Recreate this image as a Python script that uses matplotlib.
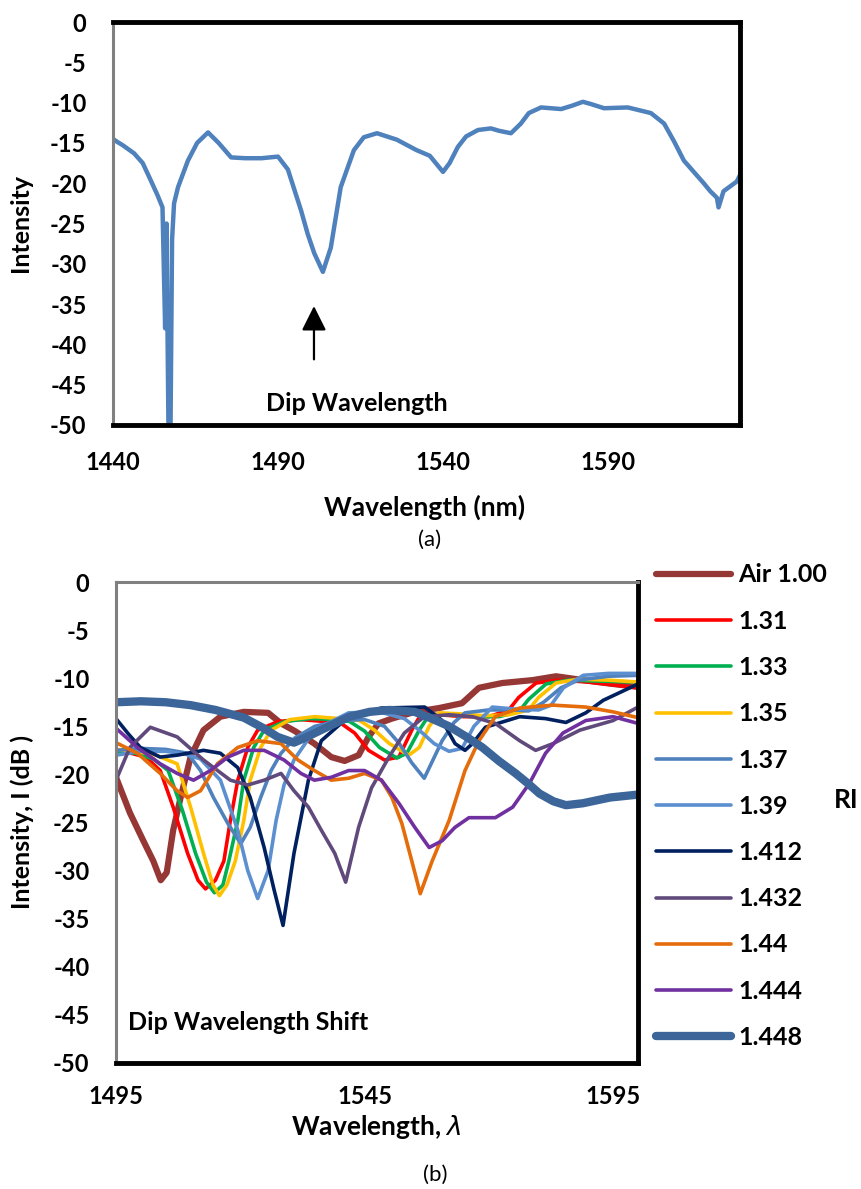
import matplotlib
matplotlib.use('Agg')
import matplotlib.pyplot as plt

plt.rcParams['font.family'] = ['Lato', 'DejaVu Sans']
plt.rcParams['mathtext.fontset'] = 'dejavusans'
plt.rcParams['axes.unicode_minus'] = False

# ---- panel (a): single spectrum ----
top_wl = [1440, 1441, 1443, 1446.4, 1449, 1451.5, 1453.5, 1455, 1455.8, 1456.2, 1456.8,
          1457.4, 1457.9, 1458.5, 1459.7, 1462.7, 1465.5, 1468.8, 1472, 1475.8, 1480, 1485,
          1490, 1493, 1497, 1499, 1501, 1503.6, 1506, 1509, 1513, 1516, 1520, 1526, 1532,
          1536, 1540, 1542, 1544.5, 1547, 1550.6, 1554.5, 1557, 1560.6, 1563.6, 1566, 1569.7,
          1575.8, 1579, 1582.4, 1585, 1588.8, 1596, 1603, 1607, 1610, 1613, 1616, 1619, 1621,
          1623, 1623.5, 1625, 1629, 1630]
top_db = [-14.5, -14.8, -15.3, -16.3, -17.5, -19.7, -21.5, -23, -38, -25, -50,
          -52, -27, -22.5, -20.5, -17.2, -15, -13.7, -15, -16.8, -16.9, -16.9,
          -16.7, -18.3, -23.4, -26.3, -28.7, -31, -28, -20.5, -15.9, -14.3, -13.8, -14.6, -15.9,
          -16.6, -18.6, -17.5, -15.5, -14.2, -13.4, -13.2, -13.5, -13.8, -12.6, -11.3, -10.6,
          -10.8, -10.4, -9.9, -10.2, -10.7, -10.6, -11.3, -12.6, -14.8, -17.2, -18.6, -20, -21,
          -21.8, -23, -21, -19.8, -19]

# ---- panel (b): spectra for different RI ----
labels = ['Air 1.00', '1.31', '1.33', '1.35', '1.37', '1.39', '1.412', '1.432', '1.44', '1.444', '1.448']
colors = ['#953735', '#FF0000', '#00B050', '#FFC000', '#4F81BD', '#5B8FD0', '#002060',
          '#604A7B', '#E46C0A', '#7030A0', '#3C6699']
widths = [4.5, 2.6, 2.6, 2.6, 2.6, 2.6, 2.6, 2.6, 2.6, 2.6, 6.0]

air_wl = [1495, 1497.8, 1500.5, 1502.5, 1504, 1505.2, 1506.5, 1508, 1510, 1512.6, 1516, 1520.7,
          1525.6, 1528.2, 1531, 1534.9, 1538.3, 1541, 1543.8, 1545.8, 1547.8, 1550.5, 1555.1,
          1560, 1564.6, 1568, 1572.7, 1578.8, 1583.5, 1589, 1595, 1600]
air_db = [-20.3, -24, -26.9, -29, -31, -30.2, -25.8, -22.4, -18.2, -15.4, -14, -13.5,
          -13.6, -14.7, -15.5, -16.8, -18.2, -18.6, -18, -16.1, -14.7, -14.2, -13.5,
          -13.1, -12.6, -11, -10.5, -10.2, -9.8, -10.2, -10.6, -10.9]

ri131_wl = [1495, 1498, 1501, 1503.9, 1506.5, 1509.4, 1511.5, 1513, 1515, 1516.7, 1518, 1519.5,
            1521.5, 1523.5, 1527.6, 1532, 1537, 1540, 1543, 1545.8, 1549, 1551.9, 1554.5,
            1556.5, 1560, 1565, 1570, 1574, 1576, 1579.5, 1584, 1590, 1595, 1600]
ri131_db = [-17.8, -17.8, -18.2, -19.6, -23.4, -28.2, -31, -31.9, -31, -29, -24.8, -20.6,
            -17.2, -15.4, -14.5, -14.3, -14.5, -14.6, -15.7, -17.5, -18.5, -18.2, -15.4,
            -13.6, -13.8, -14, -14, -13.3, -12, -10.5, -10.2, -10.4, -10.7, -11]

ri133_wl = [1495, 1499, 1502.5, 1505.5, 1508.4, 1511, 1513.2, 1514.8, 1516.5, 1517.7, 1519.5,
            1520.7, 1522.7, 1524.8, 1529, 1534, 1539, 1542, 1545, 1548, 1551.5, 1553.5, 1556,
            1558, 1562, 1567, 1572, 1576, 1578, 1581.5, 1586, 1592, 1600]
ri133_db = [-17.6, -17.8, -18.4, -19.6, -23.8, -28.2, -31.2, -32.3, -31.5, -29, -24.8,
            -20.6, -17.2, -15.4, -14.5, -14.2, -14.3, -14.5, -15.5, -17.2, -18.3, -17.8, -15.4,
            -13.8, -13.8, -14, -14, -13.5, -12.2, -10.6, -10.2, -10.3, -10.4]

ri135_wl = [1495, 1499, 1503, 1507.3, 1510, 1512.6, 1514.5, 1515.8, 1517.3, 1519, 1520.7, 1522,
            1524.1, 1526.2, 1530, 1535, 1540, 1544, 1547, 1550, 1553.9, 1556, 1558, 1560,
            1564, 1569, 1574, 1578, 1580, 1583.5, 1588, 1594, 1600]
ri135_db = [-17.4, -17.6, -18, -18.9, -23.4, -28.2, -31.5, -32.6, -31.5, -29, -24.8, -20.6,
            -17.2, -15.4, -14.3, -14, -14.2, -14.4, -15.4, -16.8, -18, -17.2, -15, -13.6,
            -13.7, -13.9, -13.8, -13.3, -12, -10.5, -10.1, -10.2, -10.4]

ri137_wl = [1495, 1500, 1505, 1509.4, 1512, 1514.6, 1517.5, 1520.1, 1522, 1524.1, 1526.2, 1528.2,
            1531, 1535, 1540, 1545, 1549, 1552, 1554.5, 1557, 1560.6, 1563, 1565.2, 1570, 1575,
            1578, 1581, 1584.5, 1588, 1594, 1600]
ri137_db = [-17.5, -17.3, -17.4, -17.8, -19.6, -22.4, -25.1, -27.2, -25.5, -22.4, -19.6, -17.8,
            -16.2, -15, -14.4, -14.3, -15, -16.8, -18.8, -20.4, -16.5, -14.6, -13.6, -13.3, -13.3,
            -13.4, -12.5, -11, -10.2, -9.8, -9.7]

ri139_wl = [1495, 1500, 1505, 1509, 1512, 1516, 1519.5, 1521.5, 1523.5, 1525.6, 1527.2, 1528.8,
            1530.8, 1534.9, 1541.8, 1548, 1553, 1556, 1559, 1562, 1564.6, 1567, 1570.7, 1575,
            1580, 1582.5, 1585, 1589, 1594, 1600]
ri139_db = [-18, -17.6, -17.6, -17.9, -18.4, -20.6, -25.8, -30, -32.9, -30, -24.8, -21.1,
            -18.5, -15.4, -13.6, -13.5, -14.2, -15.4, -16.8, -17.6, -17.3, -15, -13, -13.2,
            -13.3, -12.8, -11, -9.7, -9.5, -9.5]

ri1412_wl = [1495, 1497.5, 1499.9, 1503.9, 1507.3, 1512.6, 1516, 1519.5, 1522, 1524.8, 1526.8,
             1528.6, 1530.8, 1533.7, 1536.3, 1541.8, 1548.4, 1557.1, 1560.6, 1563.2, 1565.2,
             1566.7, 1569.3, 1576.2, 1581.4, 1585.5, 1589.5, 1593, 1600]
ri1412_db = [-14.2, -15.8, -17.2, -18.2, -18, -17.5, -17.8, -19.3, -22.4, -27.6, -32,
             -35.7, -28.2, -20.6, -16.5, -14, -13.1, -13, -14.4, -16.8, -17.5,
             -16.8, -15.1, -14, -14.2, -14.6, -13.6, -12.3, -10.6]

ri1432_wl = [1495, 1497.8, 1501.9, 1507.3, 1512.6, 1518, 1521.5, 1524.8, 1528.2, 1530.8, 1533.7,
             1536.3, 1539, 1541.2, 1543.8, 1546.4, 1549.9, 1553, 1557, 1562, 1566.7, 1571.3,
             1576.2, 1579.4, 1582.9, 1588.3, 1595, 1600]
ri1432_db = [-20.6, -17.2, -15.1, -16.1, -18.5, -20.6, -21.1, -20.6, -19.9, -21.7, -23.4,
             -25.8, -28.2, -31.2, -25.5, -21.4, -18.2, -15.7, -14, -13.8, -14, -14.7,
             -16.5, -17.5, -16.8, -15.4, -14.4, -13]

ri144_wl = [1495, 1499.3, 1503.9, 1507.3, 1509.4, 1512, 1515.4, 1519.5, 1523.5, 1528.2, 1531.6,
            1534.9, 1538.3, 1541.8, 1545, 1548.4, 1550.5, 1552.5, 1554.5, 1556.2, 1558.6, 1562,
            1565.2, 1568, 1571.3, 1576.2, 1582.9, 1589.5, 1595, 1600]
ri144_db = [-16.7, -17.8, -19.9, -21.7, -22.4, -21.7, -18.9, -17.2, -16.5, -16.8, -18.5,
            -19.6, -20.6, -20.4, -19.9, -20.6, -22.4, -25.1, -29, -32.4, -29, -24.8,
            -19.6, -16.5, -14, -13.1, -12.8, -13, -13.5, -14.1]

ri1444_wl = [1495, 1499.3, 1503.9, 1507.3, 1510.6, 1514, 1517.5, 1520.7, 1524.8, 1528.8, 1532.2,
             1534.9, 1538.3, 1541.8, 1545, 1548.4, 1551.9, 1555.1, 1558, 1560.6, 1563.2, 1566,
             1571.3, 1574.8, 1578.2, 1581.4, 1584.9, 1589.5, 1595, 1600]
ri1444_db = [-15.2, -17.2, -18.9, -19.9, -20.6, -19.6, -18.2, -17.5, -17.5, -18.5, -19.9,
             -20.6, -20.3, -19.6, -19.6, -20.6, -23, -25.5, -27.6, -26.9, -25.5, -24.5,
             -24.5, -23.4, -20.9, -17.8, -15.7, -14.4, -14, -14.7]

ri1448_wl = [1495, 1500, 1505, 1510, 1515, 1520.7, 1524.7, 1527.5, 1530.8, 1533, 1537.8, 1542,
             1546, 1550, 1555.1, 1558.5, 1562, 1565.5, 1568.7, 1572, 1575.4, 1578, 1580.2,
             1583, 1585.5, 1588.9, 1594.4, 1600]
ri1448_db = [-12.5, -12.4, -12.5, -12.8, -13.3, -14.1, -15.2, -16.1, -16.7, -16.2, -15, -14,
             -13.5, -13.3, -13.5, -14.2, -15, -16.1, -17.2, -18.6, -19.9, -21, -22,
             -22.8, -23.2, -23, -22.4, -22.1]

series_wl = [air_wl, ri131_wl, ri133_wl, ri135_wl, ri137_wl, ri139_wl, ri1412_wl,
             ri1432_wl, ri144_wl, ri1444_wl, ri1448_wl]
series_db = [air_db, ri131_db, ri133_db, ri135_db, ri137_db, ri139_db, ri1412_db,
             ri1432_db, ri144_db, ri1444_db, ri1448_db]

W, H = 861, 1189
def fx(px):
    return px / W
def fy(py):
    return 1 - py / H

fig = plt.figure(figsize=(W / 100, H / 100), dpi=100)

def style_axes(ax, gray_top):
    for s in ['right', 'bottom']:
        ax.spines[s].set_color('black')
        ax.spines[s].set_linewidth(3.5)
    ax.spines['left'].set_color('#808080')
    ax.spines['left'].set_linewidth(2.2)
    if gray_top:
        ax.spines['top'].set_color('#808080')
        ax.spines['top'].set_linewidth(2.2)
    else:
        ax.spines['top'].set_color('black')
        ax.spines['top'].set_linewidth(3.5)
    ax.tick_params(length=0, labelsize=17)
    for t in ax.get_xticklabels() + ax.get_yticklabels():
        t.set_fontweight('bold')

# panel (a)
ax1 = fig.add_axes([fx(113), fy(425), fx(740) - fx(113), fy(22) - fy(425)])
ax1.plot(top_wl, top_db, color='#4F81BD', lw=3.2, solid_joinstyle='round')
ax1.set_xlim(1440, 1630)
ax1.set_ylim(-50, 0)
ax1.set_xticks([1440, 1490, 1540, 1590])
ax1.set_yticks(range(-50, 1, 5))
style_axes(ax1, gray_top=False)
ax1.tick_params(axis='y', pad=19)
ax1.tick_params(axis='x', pad=19)
ax1.annotate('', xy=(1500.9, -34.9), xytext=(1500.9, -42.2),
             arrowprops=dict(arrowstyle='-|>,head_length=0.6,head_width=0.3',
                             color='black', lw=1.6, mutation_scale=25))
ax1.text(1514, -47.3, 'Dip Wavelength', ha='center', va='center', fontsize=18, fontweight='bold')
fig.text(fx(21), fy(223), 'Intensity', rotation=90, ha='center', va='center',
         fontsize=18, fontweight='bold')
fig.text(fx(425), fy(507), 'Wavelength (nm)', ha='center', va='center',
         fontsize=19, fontweight='bold')
fig.text(fx(430), fy(540), '(a)', ha='center', va='center', fontsize=16)

# panel (b)
ax2 = fig.add_axes([fx(116), fy(1063), fx(638) - fx(116), fy(582) - fy(1063)])
for wl, db, lab, c, lw in zip(series_wl, series_db, labels, colors, widths):
    ax2.plot(wl, db, color=c, lw=lw, label=lab, solid_joinstyle='round', solid_capstyle='round')
ax2.set_xlim(1495, 1600)
ax2.set_ylim(-50, 0)
ax2.set_xticks([1495, 1545, 1595])
ax2.set_yticks(range(-50, 1, 5))
style_axes(ax2, gray_top=True)
ax2.tick_params(axis='y', pad=19)
ax2.tick_params(axis='x', pad=16)
ax2.text(1497.4, -45.8, 'Dip Wavelength Shift', ha='left', va='center',
         fontsize=18, fontweight='bold')
fig.text(fx(22), fy(822), 'Intensity, I (dB )', rotation=90, ha='center', va='center',
         fontsize=18, fontweight='bold')
fig.text(fx(376), fy(1127), 'Wavelength, $\\lambda$', ha='center', va='center',
         fontsize=19, fontweight='bold')
fig.text(fx(435), fy(1175), '(b)', ha='center', va='center', fontsize=16)

leg = ax2.legend(loc='upper left', bbox_to_anchor=(fx(633), fy(541)),
                 bbox_transform=fig.transFigure, frameon=False, handlelength=3.0,
                 labelspacing=0.93, handletextpad=0.3, borderpad=0.4,
                 prop={'weight': 'bold', 'size': 18})
fig.text(fx(846), fy(800), 'RI', ha='center', va='center', fontsize=19, fontweight='bold')

fig.savefig('out.png', dpi=100)
